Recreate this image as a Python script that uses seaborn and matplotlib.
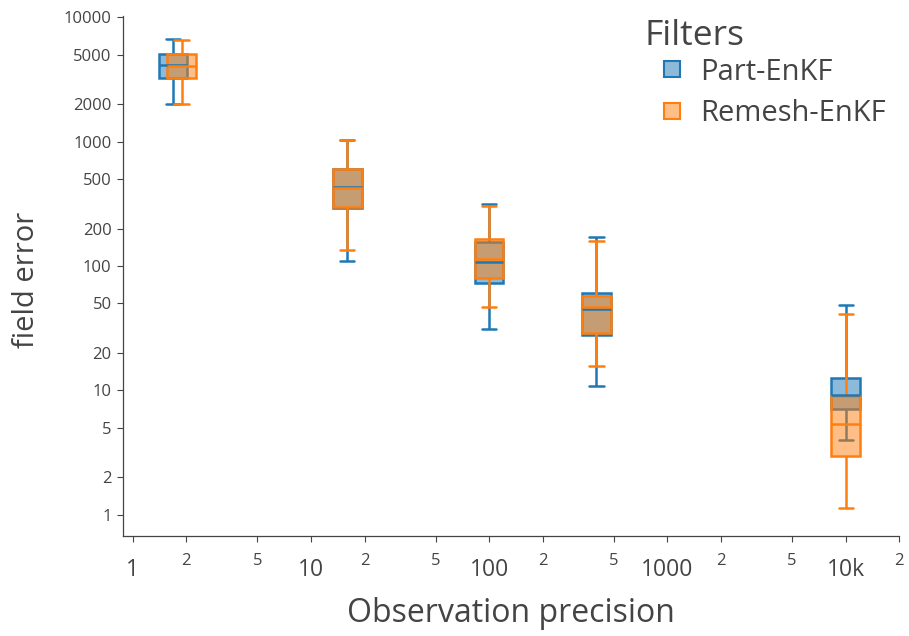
import numpy as np
import pandas as pd
import matplotlib
matplotlib.use("Agg")
import matplotlib.pyplot as plt
import seaborn as sns
from matplotlib.lines import Line2D
from matplotlib.colors import to_rgba
from matplotlib.ticker import FixedLocator, FixedFormatter, NullLocator

# ---------------- data ----------------
filters = ["Part-EnKF", "Remesh-EnKF"]
colors = ["#1f77b4", "#ff7f0e"]

part_precision = [1.68, 16, 100, 400, 10000]
part_min = [2010, 109, 31.4, 10.9, 4.0]
part_q1 = [3250, 295, 73, 27.7, 7.16]
part_med = [4120, 430, 107, 45.4, 9.2]
part_q3 = [5040, 600, 157, 61, 12.7]
part_max = [6620, 1020, 317, 171, 48.2]

remesh_precision = [1.88, 16, 100, 400, 10000]
remesh_min = [2000, 135.6, 46.8, 15.7, 1.14]
remesh_q1 = [3250, 300, 80, 28.8, 2.99]
remesh_med = [4080, 425, 113, 46.8, 5.36]
remesh_q3 = [5040, 605, 165, 57.3, 9.03]
remesh_max = [6600, 1020, 301, 160, 40.8]

x_major = [1, 10, 100, 1000, 10000]
x_major_labels = ["1", "10", "100", "1000", "10k"]
x_minor = [2, 5, 20, 50, 200, 500, 2000, 5000, 20000]
x_minor_labels = ["2", "5", "2", "5", "2", "5", "2", "5", "2"]
y_ticks = [1, 2, 5, 10, 20, 50, 100, 200, 500, 1000, 2000, 5000, 10000]
y_tick_labels = ["1", "2", "5", "10", "20", "50", "100", "200", "500",
                 "1000", "2000", "5000", "10000"]


def long_frame(name, prec, mn, q1, med, q3, mx):
    rows = []
    for i, p in enumerate(prec):
        for v in (mn[i], q1[i], med[i], q3[i], mx[i]):
            rows.append({"precision": p, "error": v, "filter": name})
    return pd.DataFrame(rows)


df_part = long_frame(filters[0], part_precision, part_min, part_q1, part_med, part_q3, part_max)
df_remesh = long_frame(filters[1], remesh_precision, remesh_min, remesh_q1, remesh_med, remesh_q3, remesh_max)

# ---------------- style ----------------
sns.set_theme(style="white")
plt.rcParams["font.family"] = ["Open Sans", "DejaVu Sans"]
TXT = "#444444"

W, H = 909, 636
fig = plt.figure(figsize=(W / 100, H / 100), dpi=100)
left_px, right_px, bottom_px, top_px = 122.7, 899.3, 536.0, 15.8
ax = fig.add_axes([left_px / W, 1 - bottom_px / H,
                   (right_px - left_px) / W, (bottom_px - top_px) / H])

for df, c in zip([df_part, df_remesh], colors):
    sns.boxplot(data=df, x="precision", y="error", native_scale=True,
                log_scale=(True, True), ax=ax, color=c, saturation=1,
                width=0.266, linewidth=1.8, linecolor=c, whis=(0, 100),
                showfliers=False, boxprops=dict(facecolor=to_rgba(c, 0.5)))

ax.set_xlim(10 ** -0.056, 20000)
ax.set_ylim(10 ** -0.169, 10 ** 4.01)

ax.xaxis.set_major_locator(FixedLocator(x_major))
ax.xaxis.set_major_formatter(FixedFormatter(x_major_labels))
ax.xaxis.set_minor_locator(FixedLocator(x_minor))
ax.xaxis.set_minor_formatter(FixedFormatter(x_minor_labels))
ax.yaxis.set_major_locator(FixedLocator(y_ticks))
ax.yaxis.set_major_formatter(FixedFormatter(y_tick_labels))
ax.yaxis.set_minor_locator(NullLocator())

ax.tick_params(axis="x", which="major", bottom=True, labelsize=16.5, length=4,
               width=0.8, pad=12, color=TXT, labelcolor=TXT)
ax.tick_params(axis="x", which="minor", bottom=True, labelsize=12, length=4,
               width=0.8, pad=8.5, color=TXT, labelcolor=TXT)
ax.tick_params(axis="y", which="major", left=True, labelsize=12, length=4,
               width=0.8, pad=4, color=TXT, labelcolor=TXT)

for s in ["top", "right"]:
    ax.spines[s].set_visible(False)
for s in ["left", "bottom"]:
    ax.spines[s].set_color(TXT)
    ax.spines[s].set_linewidth(0.9)

ax.set_xlabel("Observation precision", fontsize=23, color=TXT)
ax.set_ylabel("field error", fontsize=21, color=TXT)
ax.xaxis.set_label_coords(0.4994, -0.118)
ax.yaxis.set_label_coords(-0.105, 0.492)

# legend
fig.text(645 / W, 1 - 45 / H, "Filters", fontsize=25.5, color=TXT,
         ha="left", va="baseline")
handles = [Line2D([], [], marker="s", linestyle="none", markersize=12,
                  markerfacecolor=to_rgba(c, 0.5), markeredgecolor=c,
                  markeredgewidth=1.5) for c in colors]
leg = ax.legend(handles, filters, loc="upper left",
                bbox_to_anchor=(645 / W, 1 - 57.5 / H), bbox_transform=fig.transFigure,
                frameon=False, fontsize=21,
                handlelength=1.85, handletextpad=0.03, borderpad=0,
                borderaxespad=0, labelspacing=0.42, labelcolor=TXT)

fig.savefig("out.png", dpi=100)
